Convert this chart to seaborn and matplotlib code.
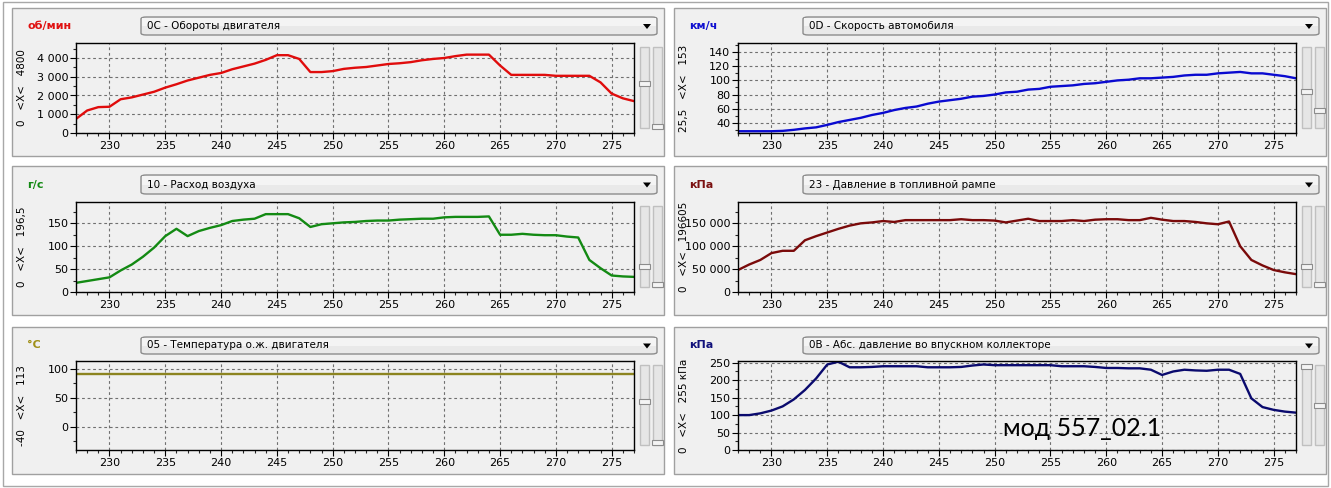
import numpy as np
import pandas as pd
import matplotlib
matplotlib.use("Agg")
import matplotlib.pyplot as plt
import seaborn as sns
from matplotlib.patches import Rectangle, FancyBboxPatch, Polygon
from matplotlib.ticker import MultipleLocator, FuncFormatter

# ---- data (time axis, one sample per second) ----
t = list(range(227, 278))

rpm = [750, 1200, 1380, 1400, 1800, 1900, 2050, 2200, 2420, 2600,
       2800, 2950, 3100, 3200, 3400, 3550, 3700, 3900, 4150, 4150,
       3950, 3250, 3250, 3300, 3420, 3480, 3520, 3600, 3680, 3720,
       3780, 3880, 3950, 4000, 4100, 4180, 4180, 4180, 3600, 3100,
       3100, 3100, 3100, 3050, 3050, 3050, 3050, 2700, 2100, 1850, 1700]

speed = [28, 28, 28, 28, 28.5, 30, 32, 33.5, 37, 41,
         44, 47, 51, 54, 58, 61, 63, 67, 70, 72,
         74, 77, 78, 80, 83, 84, 87, 88, 91, 92,
         93, 95, 96, 98, 100, 101, 103, 103, 104, 105,
         107, 108, 108, 110, 111, 112, 110, 110, 108, 106, 103]

airflow = [20, 24, 28, 32, 47, 60, 77, 97, 122, 138,
           122, 133, 140, 146, 155, 158, 160, 170, 170, 170,
           161, 142, 148, 150, 152, 153, 155, 156, 156, 158,
           159, 160, 160, 163, 164, 164, 164, 165, 125, 125,
           127, 125, 124, 124, 121, 119, 70, 52, 36, 34, 33]

fuel_pressure = [48000, 60000, 70000, 85000, 90000, 90000, 113000, 122000, 130000, 138000,
                 145000, 150000, 152000, 155000, 153000, 157000, 157000, 157000, 157000, 157000,
                 159000, 157000, 157000, 156000, 152000, 156000, 160000, 155000, 155000, 155000,
                 157000, 155000, 158000, 159000, 159000, 157000, 157000, 162000, 158000, 155000,
                 155000, 153000, 150000, 148000, 154000, 100000, 70000, 58000, 48000, 43000, 39000]

coolant_temp = [90] * len(t)

map_kpa = [100, 100, 105, 113, 125, 145, 172, 205, 245, 253,
           237, 237, 238, 240, 240, 240, 240, 237, 237, 237,
           238, 242, 245, 243, 243, 243, 243, 243, 243, 240,
           240, 240, 238, 235, 235, 234, 234, 230, 215, 225,
           230, 228, 227, 230, 230, 218, 148, 123, 115, 110, 107]

units = ["об/мин", "км/ч", "г/с", "кПа", "°C", "кПа"]
titles = ["0C - Обороты двигателя", "0D - Скорость автомобиля",
          "10 - Расход воздуха", "23 - Давление в топливной рампе",
          "05 - Температура о.ж. двигателя", "0B - Абс. давление во впускном коллекторе"]
range_labels = ["0   <X<   4800", "25,5   <X<   153", "0   <X<   196,5",
                "0   <X<   196605", "-40   <X<   113", "0   <X<   255 кПа"]
y_limits = [(0, 4800), (25.5, 153), (0, 196.5), (0, 196605), (-40, 113), (0, 255)]
y_steps = [1000, 20, 50, 50000, 50, 50]
series = [rpm, speed, airflow, fuel_pressure, coolant_temp, map_kpa]
colors = ["#e00c0c", "#0a0ad0", "#138a13", "#7a0a0a", "#8c8420", "#0a0a6e"]
unit_colors = ["#e01010", "#1010d0", "#138a13", "#7a1010", "#a09018", "#10107a"]

df = pd.DataFrame({"t": t})

sns.set_theme(style="white")
plt.rcParams["font.family"] = ["DejaVu Sans"]

W, H = 1331, 488
fig = plt.figure(figsize=(W / 100, H / 100), dpi=100)
fig.patch.set_facecolor("white")


def box(x0, y0, x1, y1):
    return [x0 / W, 1 - y1 / H, (x1 - x0) / W, (y1 - y0) / H]


def fig_rect(x0, y0, x1, y1, **kw):
    fig.patches.append(Rectangle((x0 / W, 1 - y1 / H), (x1 - x0) / W, (y1 - y0) / H,
                                 transform=fig.transFigure, **kw))


# outer window border
fig_rect(3, 2, 1328, 486, facecolor="white", edgecolor="#a8a8a8", lw=1, zorder=0)

rows = [dict(frame=(8, 156), drop=(17, 35), plot=(43, 133)),
        dict(frame=(166, 315), drop=(175, 194), plot=(202, 292)),
        dict(frame=(327, 474), drop=(337, 354), plot=(361, 450))]
thumbs = [(0.45, 0.98), (0.55, 0.78), (0.75, 0.97), (0.75, 0.97), (0.45, 0.97), (0.02, 0.5)]

for i in range(6):
    r = rows[i // 2]
    dx = 662 * (i % 2)
    fy0, fy1 = r["frame"]
    dy0, dy1 = r["drop"]
    py0, py1 = r["plot"]

    # panel frame
    fig_rect(12 + dx, fy0, 664 + dx, fy1, facecolor="#f0f0f0", edgecolor="#a0a0a0", lw=1, zorder=1)

    # dropdown
    fig.patches.append(FancyBboxPatch(((141 + dx) / W, 1 - dy1 / H), (516) / W, (dy1 - dy0) / H,
                                      boxstyle="round,pad=0,rounding_size=0.004",
                                      transform=fig.transFigure, facecolor="#e9e9e9",
                                      edgecolor="#8c8c8c", lw=1, zorder=2))
    fig_rect(142 + dx, dy0 + 1, 656 + dx, (dy0 + dy1) / 2, facecolor="#f4f4f4", lw=0, zorder=2)
    fig.text((147 + dx) / W, 1 - (dy0 + dy1) / 2 / H, titles[i], fontsize=7.5,
             ha="left", va="center", color="black", zorder=3)
    cx, cy = 647 + dx, (dy0 + dy1) / 2
    fig.patches.append(Polygon([((cx - 4) / W, 1 - (cy - 2) / H), ((cx + 4) / W, 1 - (cy - 2) / H),
                                (cx / W, 1 - (cy + 3) / H)], closed=True,
                               transform=fig.transFigure, facecolor="black", lw=0, zorder=3))

    # unit label
    fig.text((27 + dx) / W, 1 - (dy0 + dy1) / 2 / H, units[i], fontsize=8, fontweight="bold",
             ha="left", va="center", color=unit_colors[i])

    # range label
    fig.text((22 + dx) / W, 1 - (py0 + py1) / 2 / H, range_labels[i], fontsize=7.5,
             rotation=90, ha="center", va="center", color="black")

    # sliders
    for k, (sx0, sx1) in enumerate([(640, 649), (653, 662)]):
        ty0, ty1 = py0 + 4, py1 - 5
        fig_rect(sx0 + dx, ty0, sx1 + dx, ty1, facecolor="#e6e6e6", edgecolor="#c0c0c0", lw=1, zorder=2)
        ty = ty0 + thumbs[i][k] * (ty1 - ty0)
        fig_rect(sx0 - 1 + dx, ty - 2.5, sx1 + 1 + dx, ty + 2.5, facecolor="#f4f4f4",
                 edgecolor="#8c8c8c", lw=0.8, zorder=3)

    # plot area
    ax = fig.add_axes(box(76 + dx, py0, 634 + dx, py1), zorder=4)
    ax.set_facecolor("#f0f0f0")
    df["v"] = series[i]
    sns.lineplot(data=df, x="t", y="v", ax=ax, color=colors[i], lw=1.7)
    ax.set_xlim(227, 277)
    ax.set_ylim(*y_limits[i])
    ax.set_xlabel("")
    ax.set_ylabel("")
    ax.xaxis.set_major_locator(MultipleLocator(5))
    ax.xaxis.set_minor_locator(MultipleLocator(1))
    ax.yaxis.set_major_locator(MultipleLocator(y_steps[i]))
    ax.yaxis.set_minor_locator(MultipleLocator(y_steps[i] / 2))
    ax.yaxis.set_major_formatter(FuncFormatter(lambda v, p: f"{v:,.0f}".replace(",", " ")))
    ax.grid(True, which="major", color="#707070", ls=(0, (2.5, 2.5)), lw=0.8)
    ax.tick_params(which="major", direction="out", length=4, width=0.8, labelsize=8,
                   colors="black", pad=1.5, bottom=True, left=True)
    ax.tick_params(which="minor", direction="out", length=2, width=0.8, bottom=True, left=True)
    for s in ax.spines.values():
        s.set_color("black")
        s.set_linewidth(1)

fig.text(1003 / W, 1 - 436 / H, "мод 557_02.1", fontsize=18, family=["Lato", "DejaVu Sans"],
         ha="left", va="baseline", color="black", zorder=10)

fig.savefig("out.png", dpi=100)
